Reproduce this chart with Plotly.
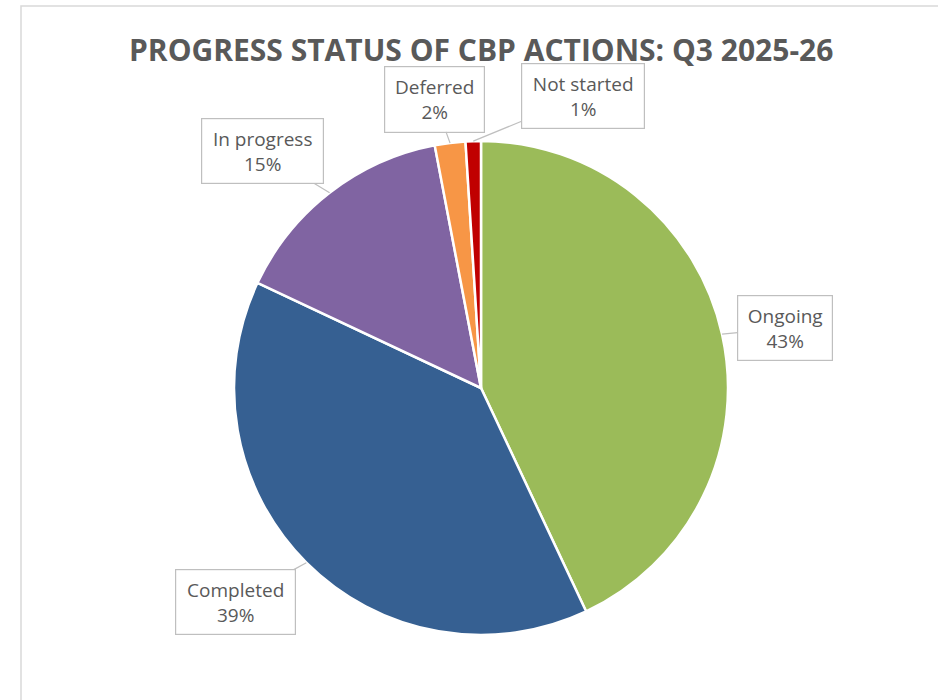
import math
import plotly.graph_objects as go

# ---- data ----
categories = ["Ongoing", "Completed", "In progress", "Deferred", "Not started"]
values = [43, 39, 15, 2, 1]
colors = ["#9BBB59", "#366092", "#8064A2", "#F79646", "#C00000"]
title_text = "PROGRESS STATUS OF CBP ACTIONS: Q3 2025-26"

# ---- layout constants (screen pixels) ----
W, H = 938, 700
CX, CY, R = 481, 388, 247


def px(x):
    return x / W


def py(y):
    return 1 - y / H


box_centres = {
    "Ongoing": (785, 328),
    "Completed": (235, 602),
    "In progress": (262, 151),
    "Deferred": (434, 99),
    "Not started": (583, 96),
}
box_sizes = {
    "Ongoing": (94, 64),
    "Completed": (119, 64),
    "In progress": (121, 64),
    "Deferred": (99, 65),
    "Not started": (122, 64),
}

fig = go.Figure()
fig.add_trace(go.Pie(
    labels=categories,
    values=values,
    sort=False,
    direction="clockwise",
    rotation=0,
    marker=dict(colors=colors, line=dict(color="white", width=2.5)),
    textinfo="none",
    hoverinfo="label+percent",
    showlegend=False,
    domain=dict(x=[px(CX - R), px(CX + R)], y=[py(CY + R), py(CY - R)]),
))

total = sum(values)
cum = 0
annotations = []
for cat, v in zip(categories, values):
    mid = (cum + v / 2) / total * 2 * math.pi
    cum += v
    hx = CX + R * math.sin(mid)
    hy = CY - R * math.cos(mid)
    bx, by = box_centres[cat]
    bw, bh = box_sizes[cat]
    pct = round(v / total * 100)
    annotations.append(dict(
        x=px(hx), y=py(hy), xref="paper", yref="paper",
        ax=bx - hx, ay=by - hy, axref="pixel", ayref="pixel",
        text=f"{cat}<br>{pct}%",
        showarrow=True, arrowhead=0, arrowwidth=1.2, arrowcolor="#BFBFBF",
        standoff=0,
        font=dict(family="Open Sans", size=19, color="#595959"),
        bgcolor="white", bordercolor="#BFBFBF", borderwidth=1.2,
        width=bw - 2, height=bh - 2, align="center",
    ))

annotations.append(dict(
    x=px(481), y=py(50), xref="paper", yref="paper",
    text=f"<b>{title_text}</b>", showarrow=False,
    font=dict(family="Open Sans", size=30, color="#595959"),
    xanchor="center", yanchor="middle",
))

fig.update_layout(
    width=W, height=H,
    margin=dict(l=0, r=0, t=0, b=0),
    paper_bgcolor="white",
    plot_bgcolor="white",
    annotations=annotations,
    shapes=[dict(type="rect", xref="paper", yref="paper",
                 x0=px(21), x1=1.02, y0=-0.02, y1=py(6),
                 line=dict(color="#D9D9D9", width=1.5), fillcolor="rgba(0,0,0,0)",
                 layer="below")],
)

fig.write_html(
    "out.html",
    config={"displayModeBar": False},
    post_script="document.body.style.margin='0';document.body.style.overflow='hidden';",
)
